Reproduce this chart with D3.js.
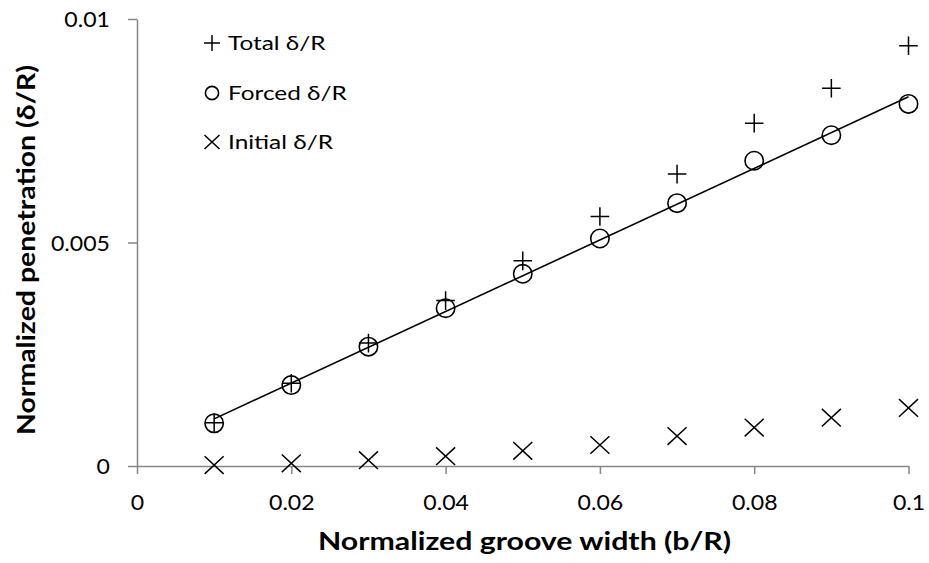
<!DOCTYPE html>
<html><head><meta charset="utf-8">
<script src="https://cdn.jsdelivr.net/npm/d3@7"></script>
<style>body{margin:0;background:#fff}svg{display:block}text{font-family:Lato,"Open Sans",sans-serif}</style>
</head><body>
<svg id="c" width="929" height="563"></svg>
<script>
const groove = [0.01,0.02,0.03,0.04,0.05,0.06,0.07,0.08,0.09,0.10];
const totalP = [0.00097,0.00185,0.00275,0.00370,0.00459,0.00558,0.00653,0.00767,0.00845,0.00940];
const forcedP = [0.000955,0.00181,0.00267,0.00353,0.00430,0.00509,0.00588,0.00683,0.00740,0.00810];
const initialP = [0.00002,0.00006,0.00013,0.00022,0.00034,0.00047,0.00067,0.00086,0.00108,0.00130];
const xTicks = [0,0.02,0.04,0.06,0.08,0.1];
const yTicks = [0,0.005,0.01];
const xTickLabels = ["0","0.02","0.04","0.06","0.08","0.1"];
const yTickLabels = ["0","0.005","0.01"];
const legendNames = ["Total δ/R","Forced δ/R","Initial δ/R"];

const svg = d3.select("#c");
const x = d3.scaleLinear().domain([0,0.1]).range([137,908.5]);
const y = d3.scaleLinear().domain([0,0.01]).range([466,19]);
const axisColor = "#868686";

function stretch(sel,k){
  sel.each(function(){
    const w = this.getComputedTextLength();
    d3.select(this).attr("textLength",w*k).attr("lengthAdjust","spacingAndGlyphs");
  });
}

// axes
const xAxis = svg.append("g").attr("transform","translate(0,"+y(0)+")")
  .call(d3.axisBottom(x).tickValues(xTicks).tickSize(8).tickSizeOuter(0).tickFormat((d,i)=>xTickLabels[i]));
const yAxis = svg.append("g").attr("transform","translate("+x(0)+",0)")
  .call(d3.axisLeft(y).tickValues(yTicks).tickSize(9).tickSizeOuter(0).tickFormat((d,i)=>yTickLabels[i]));
[xAxis,yAxis].forEach(a=>{
  a.select(".domain").attr("stroke",axisColor).attr("stroke-width",1.5);
  a.selectAll(".tick line").attr("stroke",axisColor).attr("stroke-width",1.5);
  a.selectAll(".tick text").attr("fill","#000").style("font-size","21px").style("font-family","Lato,'Open Sans',sans-serif");
});
xAxis.selectAll(".tick text").attr("dy",0).attr("y",44);
yAxis.selectAll(".tick text").attr("x",-27).attr("dy","0.36em");
stretch(xAxis.selectAll(".tick text"),1.1);
stretch(yAxis.selectAll(".tick text"),1.1);

// trendline (least squares on forced)
const mx = d3.mean(groove), my = d3.mean(forcedP);
let sxy=0,sxx=0; groove.forEach((g,i)=>{sxy+=(g-mx)*(forcedP[i]-my); sxx+=(g-mx)*(g-mx);});
const slope = sxy/sxx, icpt = my - slope*mx;
const x0 = d3.min(groove), x1 = d3.max(groove);
svg.append("line").attr("x1",x(x0)).attr("y1",y(icpt+slope*x0)).attr("x2",x(x1)).attr("y2",y(icpt+slope*x1))
  .attr("stroke","#000").attr("stroke-width",1.6);

const plusPath = s=>`M${-s},0H${s}M0,${-s}V${s}`;
const crossPath = (w,h)=>`M${-w},${-h}L${w},${h}M${-w},${h}L${w},${-h}`;

// markers
svg.append("g").selectAll("path").data(groove).join("path")
  .attr("transform",(d,i)=>`translate(${x(d)},${y(totalP[i])})`).attr("d",plusPath(9.3))
  .attr("stroke","#000").attr("stroke-width",1.5).attr("fill","none");
svg.append("g").selectAll("circle").data(groove).join("circle")
  .attr("cx",d=>x(d)).attr("cy",(d,i)=>y(forcedP[i])).attr("r",9.2)
  .attr("stroke","#000").attr("stroke-width",1.6).attr("fill","none");
svg.append("g").selectAll("path").data(groove).join("path")
  .attr("transform",(d,i)=>`translate(${x(d)},${y(initialP[i])})`).attr("d",crossPath(9.5,8.8))
  .attr("stroke","#000").attr("stroke-width",1.5).attr("fill","none");

// legend
const lg = svg.append("g");
const ly = [43,93,142];
legendNames.forEach((n,i)=>{
  const g = lg.append("g").attr("transform",`translate(212,${ly[i]})`);
  if(i===0) g.append("path").attr("d",plusPath(8)).attr("stroke","#000").attr("stroke-width",1.5);
  if(i===1) g.append("circle").attr("r",6.6).attr("fill","none").attr("stroke","#000").attr("stroke-width",1.6);
  if(i===2) g.append("path").attr("d",crossPath(7.5,7)).attr("stroke","#000").attr("stroke-width",1.5);
  const t = g.append("text").attr("x",16).attr("dy","0.36em").style("font-size","19.5px").text(n);
  stretch(t,1.25);
});

// titles
svg.append("text").attr("x",524.5).attr("y",550).attr("text-anchor","middle")
  .style("font-size","25px").style("font-weight","bold").attr("textLength",413).attr("lengthAdjust","spacingAndGlyphs")
  .text("Normalized groove width (b/R)");
svg.append("text").attr("transform","translate(35,250) rotate(-90)").attr("text-anchor","middle")
  .style("font-size","24px").style("font-weight","bold").attr("textLength",370).attr("lengthAdjust","spacingAndGlyphs")
  .text("Normalized penetration (δ/R)");
</script>
</body></html>
